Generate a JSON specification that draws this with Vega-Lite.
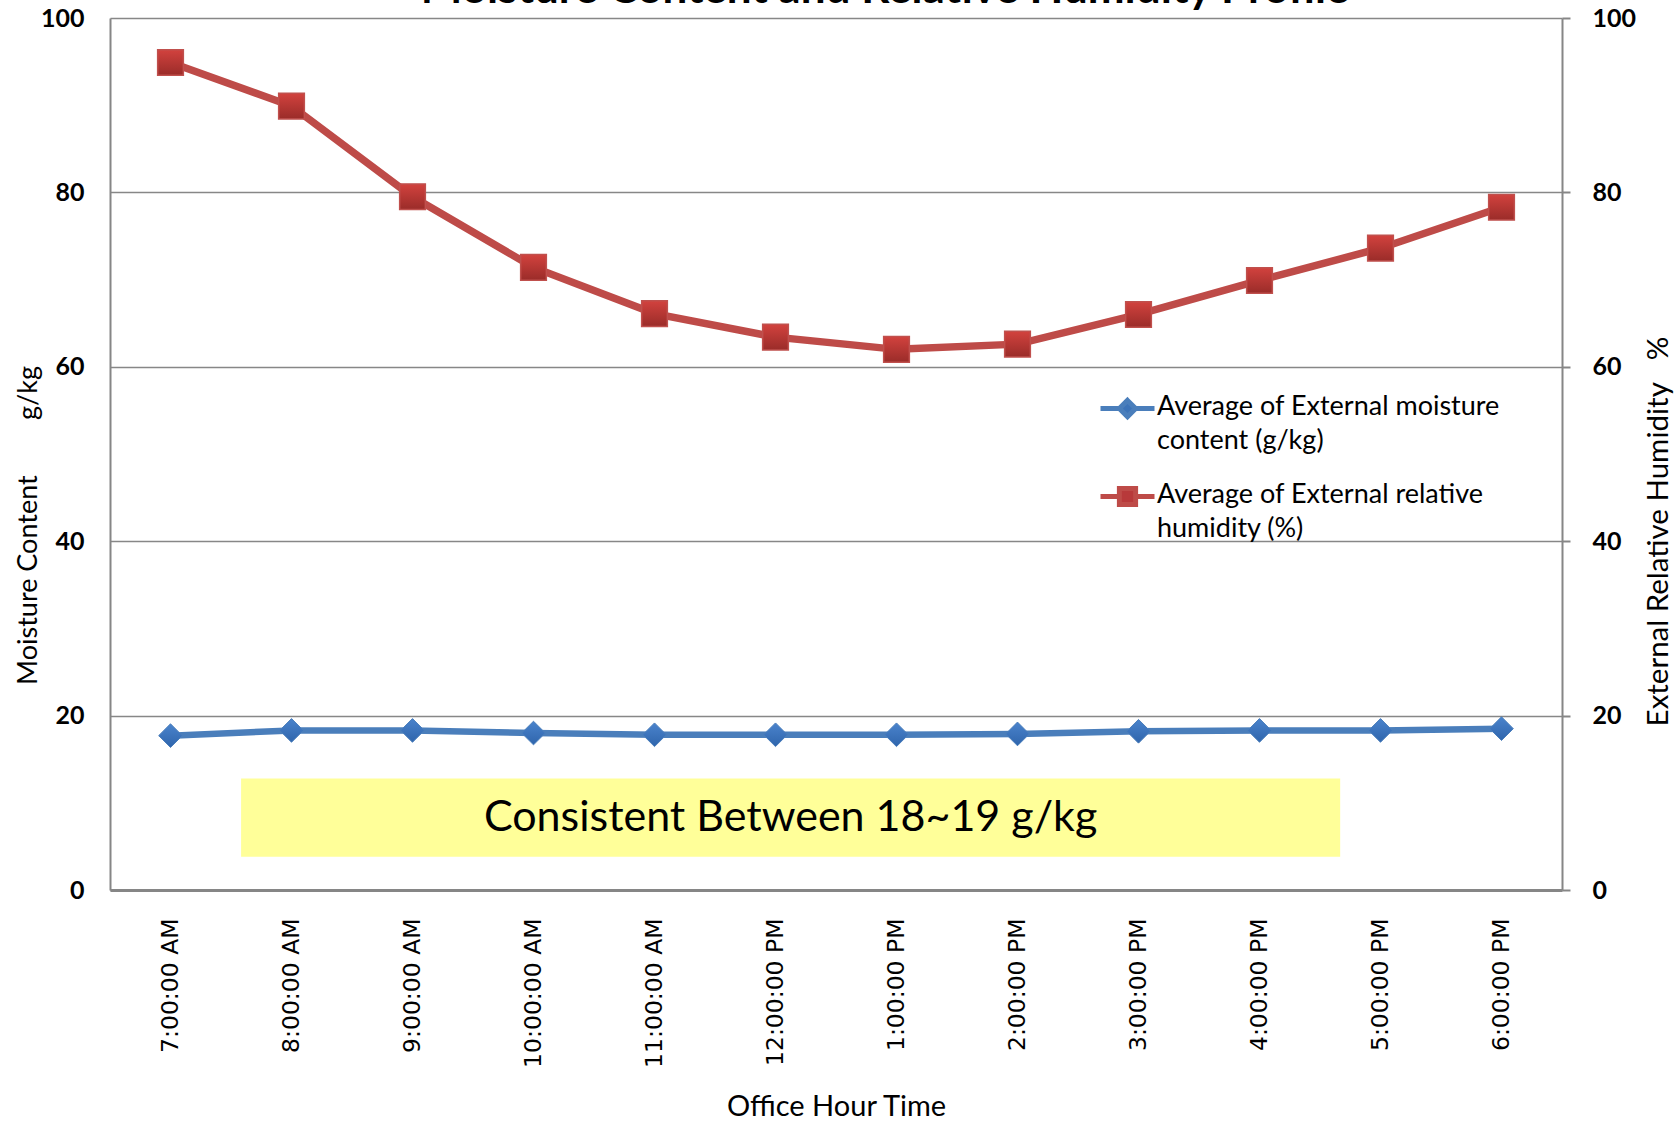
{
  "$schema": "https://vega.github.io/schema/vega-lite/v6.json",
  "width": 1452,
  "height": 872,
  "autosize": {"type": "none"},
  "padding": {"left": 110, "top": 18, "right": 118, "bottom": 231},
  "background": "white",
  "config": {
    "view": {"stroke": null},
    "font": "Lato"
  },
  "data": {
    "values": [
      {"t": "2000-01-01T07:00:00", "series": "moist", "value": 17.7},
      {"t": "2000-01-01T08:00:00", "series": "moist", "value": 18.3},
      {"t": "2000-01-01T09:00:00", "series": "moist", "value": 18.3},
      {"t": "2000-01-01T10:00:00", "series": "moist", "value": 18.0},
      {"t": "2000-01-01T11:00:00", "series": "moist", "value": 17.8},
      {"t": "2000-01-01T12:00:00", "series": "moist", "value": 17.8},
      {"t": "2000-01-01T13:00:00", "series": "moist", "value": 17.8},
      {"t": "2000-01-01T14:00:00", "series": "moist", "value": 17.9},
      {"t": "2000-01-01T15:00:00", "series": "moist", "value": 18.2},
      {"t": "2000-01-01T16:00:00", "series": "moist", "value": 18.3},
      {"t": "2000-01-01T17:00:00", "series": "moist", "value": 18.3},
      {"t": "2000-01-01T18:00:00", "series": "moist", "value": 18.5},
      {"t": "2000-01-01T07:00:00", "series": "rh", "value": 94.9},
      {"t": "2000-01-01T08:00:00", "series": "rh", "value": 89.9},
      {"t": "2000-01-01T09:00:00", "series": "rh", "value": 79.5},
      {"t": "2000-01-01T10:00:00", "series": "rh", "value": 71.4},
      {"t": "2000-01-01T11:00:00", "series": "rh", "value": 66.1},
      {"t": "2000-01-01T12:00:00", "series": "rh", "value": 63.4},
      {"t": "2000-01-01T13:00:00", "series": "rh", "value": 62.0},
      {"t": "2000-01-01T14:00:00", "series": "rh", "value": 62.6},
      {"t": "2000-01-01T15:00:00", "series": "rh", "value": 66.0},
      {"t": "2000-01-01T16:00:00", "series": "rh", "value": 69.9},
      {"t": "2000-01-01T17:00:00", "series": "rh", "value": 73.6},
      {"t": "2000-01-01T18:00:00", "series": "rh", "value": 78.3}
    ]
  },
  "encoding": {
    "x": {
      "field": "t",
      "type": "temporal",
      "scale": {"domain": [{"year": 2000, "month": 1, "date": 1, "hours": 6, "minutes": 30}, {"year": 2000, "month": 1, "date": 1, "hours": 18, "minutes": 30}]},
      "axis": {
        "title": "Office Hour Time",
        "titleFont": "Lato",
        "titleFontSize": 29,
        "titleFontWeight": "normal",
        "titleColor": "black",
        "titleY": 216,
        "titleBaseline": "middle",
        "values": [
          {"year": 2000, "month": 1, "date": 1, "hours": 7},
          {"year": 2000, "month": 1, "date": 1, "hours": 8},
          {"year": 2000, "month": 1, "date": 1, "hours": 9},
          {"year": 2000, "month": 1, "date": 1, "hours": 10},
          {"year": 2000, "month": 1, "date": 1, "hours": 11},
          {"year": 2000, "month": 1, "date": 1, "hours": 12},
          {"year": 2000, "month": 1, "date": 1, "hours": 13},
          {"year": 2000, "month": 1, "date": 1, "hours": 14},
          {"year": 2000, "month": 1, "date": 1, "hours": 15},
          {"year": 2000, "month": 1, "date": 1, "hours": 16},
          {"year": 2000, "month": 1, "date": 1, "hours": 17},
          {"year": 2000, "month": 1, "date": 1, "hours": 18}
        ],
        "format": "%-I:%M:%S %p",
        "labelFont": "DejaVu Sans",
        "labelFontSize": 23.5,
        "labelColor": "black",
        "labelAngle": 270,
        "labelAlign": "right",
        "labelBaseline": "middle",
        "labelPadding": 28,
        "labelOverlap": false,
        "labelFlush": false,
        "ticks": false,
        "grid": false,
        "domainColor": "#868686",
        "domainWidth": 3
      }
    }
  },
  "layer": [
    {
      "layer": [
        {
          "data": {"values": [{"x1": "2000-01-01T07:35:00", "x2": "2000-01-01T16:40:00", "lo": 3.8, "hi": 12.8}]},
          "mark": {"type": "rect", "color": "#FFFF99"},
          "encoding": {
            "x": {"field": "x1", "type": "temporal"},
            "x2": {"field": "x2"},
            "y": {"field": "lo", "type": "quantitative"},
            "y2": {"field": "hi"}
          }
        },
        {
          "data": {"values": [{"xm": "2000-01-01T12:07:30", "mid": 8.3, "note": "Consistent Between 18~19 g/kg"}]},
          "mark": {"type": "text", "font": "Lato", "fontSize": 43, "color": "black", "align": "center", "baseline": "middle"},
          "encoding": {
            "x": {"field": "xm", "type": "temporal"},
            "y": {"field": "mid", "type": "quantitative"},
            "text": {"field": "note"}
          }
        },
        {
          "data": {"values": [{"xt": "2000-01-01T12:54:20", "yt": 101.7, "heading": "Moisture Content and Relative Humidity Profile"}]},
          "mark": {"type": "text", "font": "Lato", "fontSize": 44, "fontWeight": "bold", "color": "black", "align": "center", "baseline": "alphabetic"},
          "encoding": {
            "x": {"field": "xt", "type": "temporal"},
            "y": {"field": "yt", "type": "quantitative"},
            "text": {"field": "heading"}
          }
        },
        {
          "transform": [{"filter": "datum.series == 'moist'"}],
          "mark": {"type": "line", "strokeWidth": 6.5},
          "encoding": {
            "y": {
              "field": "value",
              "type": "quantitative",
              "scale": {"domain": [0, 100]},
              "axis": {
                "orient": "left",
                "title": "Moisture Content\u00a0\u00a0\u00a0\u00a0\u00a0\u00a0\u00a0\u00a0g/kg",
                "titleFont": "Lato",
                "titleFontSize": 27,
                "titleFontWeight": "normal",
                "titleColor": "black",
                "titleAngle": 270,
                "titleAlign": "center",
                "titleBaseline": "middle",
                "titleX": -82,
                "titleY": 507,
                "values": [0, 20, 40, 60, 80, 100],
                "labelFont": "Lato",
                "labelFontSize": 25,
                "labelFontWeight": "bold",
                "labelColor": "black",
                "labelPadding": 26,
                "ticks": false,
                "grid": true,
                "gridColor": "#878787",
                "gridWidth": 1.5,
                "domainColor": "#868686",
                "domainWidth": 2
              }
            },
            "color": {
              "field": "series",
              "type": "nominal",
              "scale": {"domain": ["moist", "rh"], "range": ["#4A7EBB", "#BE4B48"]},
              "legend": {
                "orient": "none",
                "legendX": 988,
                "legendY": 361,
                "title": null,
                "padding": 0,
                "rowPadding": 13,
                "labelFont": "Lato",
                "labelFontSize": 27,
                "labelColor": "black",
                "labelLimit": 500,
                "labelOffset": 0,
                "labelBaseline": "top",
                "labelExpr": "datum.value == 'moist' ? ['Average of External moisture', 'content (g/kg)'] : ['Average of External relative', 'humidity (%)']",
                "symbolSize": 2916,
                "symbolStrokeWidth": 5,
                "encode": {
                  "symbols": {
                    "update": {
                      "shape": {"signal": "datum.value == 'moist' ? 'M-1,0H-0.28M0.28,0H1M0,-0.3L0.3,0L0,0.3L-0.3,0Z' : 'M-1,0H-0.3M0.3,0H1M-0.3,-0.3H0.3V0.3H-0.3Z'"},
                      "fill": {"signal": "datum.value == 'moist' ? '#3C73B8' : '#B8393A'"},
                      "fillOpacity": {"value": 1}
                    }
                  },
                  "labels": {
                    "update": {
                      "lineHeight": {"value": 34},
                      "dy": {"value": -15}
                    }
                  }
                }
              }
            }
          }
        },
        {
          "transform": [{"filter": "datum.series == 'moist'"}],
          "mark": {
            "type": "point",
            "shape": "diamond",
            "filled": true,
            "size": 560,
            "opacity": 1,
            "stroke": "#4A7EBB",
            "strokeWidth": 1,
            "color": {"gradient": "linear", "x1": 0, "y1": 0, "x2": 0, "y2": 1, "stops": [{"offset": 0, "color": "#4A83CC"}, {"offset": 1, "color": "#2F65AC"}]}
          },
          "encoding": {
            "y": {"field": "value", "type": "quantitative"}
          }
        }
      ]
    },
    {
      "transform": [{"filter": "datum.series == 'rh'"}],
      "encoding": {
        "y": {
          "field": "value",
          "type": "quantitative",
          "scale": {"domain": [0, 100]},
          "axis": {
            "orient": "right",
            "title": "External Relative Humidity\u00a0\u00a0\u00a0%",
            "titleFont": "Lato",
            "titleFontSize": 29.5,
            "titleFontWeight": "normal",
            "titleColor": "black",
            "titleAngle": 270,
            "titleAlign": "center",
            "titleBaseline": "middle",
            "titleX": 96,
            "titleY": 513,
            "values": [0, 20, 40, 60, 80, 100],
            "labelFont": "Lato",
            "labelFontSize": 25,
            "labelFontWeight": "bold",
            "labelColor": "black",
            "labelAlign": "left",
            "labelPadding": 22,
            "ticks": true,
            "tickSize": 8,
            "tickColor": "#868686",
            "tickWidth": 2,
            "grid": false,
            "domainColor": "#868686",
            "domainWidth": 2
          }
        }
      },
      "layer": [
        {
          "mark": {"type": "line", "strokeWidth": 7.5},
          "encoding": {
            "color": {"field": "series", "type": "nominal"}
          }
        },
        {
          "mark": {
            "type": "point",
            "shape": "square",
            "filled": true,
            "size": 660,
            "opacity": 1,
            "stroke": "#C0504D",
            "strokeWidth": 1.5,
            "color": {"gradient": "linear", "x1": 0, "y1": 0, "x2": 0, "y2": 1, "stops": [{"offset": 0, "color": "#D2423E"}, {"offset": 1, "color": "#9A2C29"}]}
          },
          "encoding": {}
        }
      ]
    }
  ],
  "resolve": {"scale": {"y": "independent"}, "axis": {"y": "independent"}}
}
